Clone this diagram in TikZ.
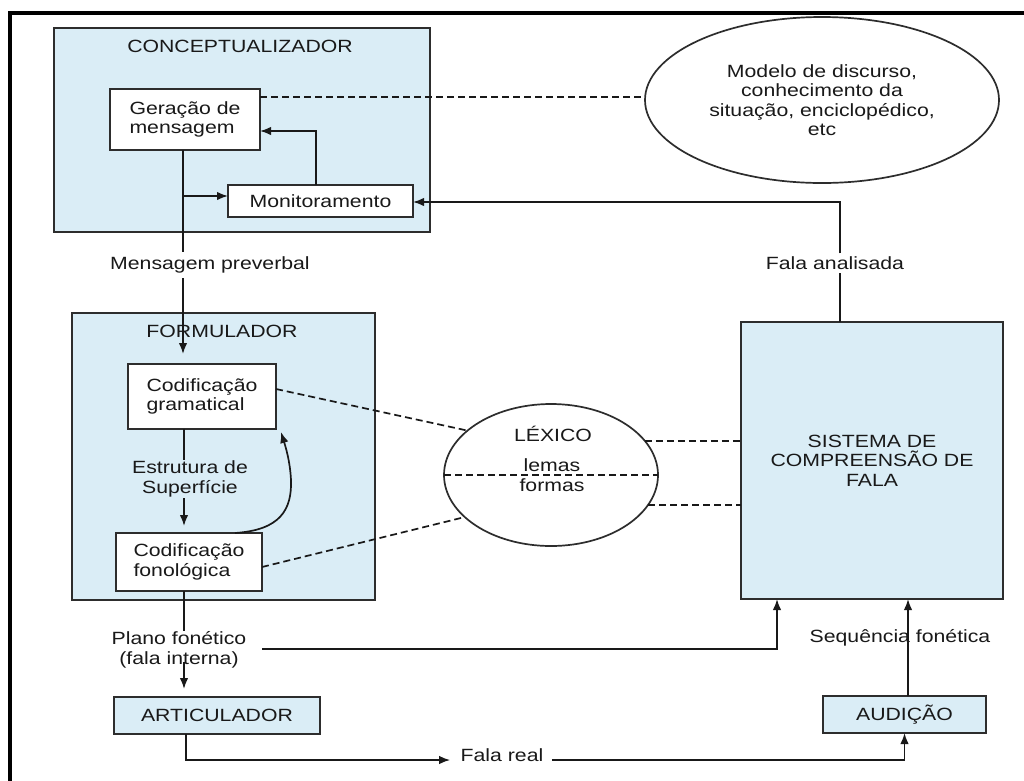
\documentclass[tikz,border=0pt]{standalone}
\usepackage{fontspec}
\newfontfamily\diafont{Liberation Sans}[FakeStretch=1.2]
\usetikzlibrary{arrows.meta,shapes.geometric}
\definecolor{boxblue}{RGB}{218,237,246}
\definecolor{edge}{RGB}{45,45,45}
\definecolor{ink}{RGB}{25,25,25}
\begin{document}
\begin{tikzpicture}[x=1pt,y=-1pt,
  every node/.style={font=\diafont\fontsize{17.7}{19.5}\selectfont, text=ink},
  bigbox/.style={draw=edge, fill=boxblue, line width=1.9pt, inner sep=0pt, outer sep=0pt, rectangle},
  whitebox/.style={draw=edge, fill=white, line width=1.8pt, inner sep=0pt, outer sep=0pt, rectangle, align=left},
  conn/.style={draw=ink, line width=1.7pt},
  arr/.style={conn, -{Latex[length=11pt,width=8.5pt]}},
  dashline/.style={draw=ink, line width=1.7pt, dash pattern=on 7pt off 4pt},
  oval/.style={ellipse, draw=edge, line width=1.7pt, inner sep=0pt, outer sep=0pt},
]
\useasboundingbox (0,0) rectangle (1024,780);
\fill[white] (0,0) rectangle (1024,780);
\draw[line width=3.2pt, black] (10,781) -- (10,13) -- (1025,13);

% Conceptualizador
\node[bigbox, minimum width=376pt, minimum height=204pt] (concbox) at (242,130) {};
\node (conctitle) at (240,46) {CONCEPTUALIZADOR};
\node[whitebox, minimum width=150pt, minimum height=61pt] (gera) at (185,119.5) {Geração de\\mensagem};
\node[whitebox, minimum width=185pt, minimum height=32pt] (monit) at (320.5,201) {Monitoramento};
\node[oval, minimum width=354pt, minimum height=166pt, align=center] (disc) at (822,100) {Modelo de discurso,\\conhecimento da\\situação, enciclopédico,\\etc};

% Formulador
\node[bigbox, minimum width=303pt, minimum height=287pt] (formbox) at (223.5,456.5) {};
\node[whitebox, minimum width=148pt, minimum height=65pt] (gram) at (202,396.5) {Codificação\\gramatical};
\node[whitebox, minimum width=146pt, minimum height=58pt] (fono) at (189,562) {Codificação\\fonológica};

% Lexico
\node[oval, minimum width=214pt, minimum height=142pt] (lex) at (551,475) {};
\node (lextitle) at (553,434) {LÉXICO};
\node (lemas) at (552,465) {lemas};
\node (formas) at (552,485) {formas};

% Sistema, articulador, audicao
\node[bigbox, minimum width=262pt, minimum height=277pt, align=center] (sist) at (872,460.5) {SISTEMA DE\\COMPREENSÃO DE\\FALA};
\node[bigbox, minimum width=206pt, minimum height=37pt] (artic) at (217,715.5) {ARTICULADOR};
\node[bigbox, minimum width=163pt, minimum height=37pt] (audi) at (904.5,714.5) {AUDIÇÃO};

% Labels
\node[inner sep=5pt] (msgpre) at (210,265) {Mensagem preverbal};
\node[inner sep=1pt, align=center] (estrut) at (190,479) {Estrutura de\\Superfície};
\node[inner sep=1pt, align=center] (plano) at (179,650) {Plano fonético\\(fala interna)};
\node[inner sep=3pt] (falaan) at (835,263) {Fala analisada};
\node (seqf) at (900,638) {Sequência fonética};
\node (falareal) at (502,755) {Fala real};

% Coordinates
\coordinate (vA) at (183,196);
\coordinate (vB) at (184,0);
\coordinate (pB) at (184,662);
\coordinate (fb) at (316,131);
\coordinate (gd) at (260,97);
\coordinate (fa) at (840,202);
\coordinate (pl1) at (262,649);
\coordinate (pl2) at (777,649);
\coordinate (sq) at (908,0);
\coordinate (fr) at (186,760);
\coordinate (fr2) at (904.5,760);
\coordinate (gr) at (276,389);
\coordinate (fn) at (262,567);
\coordinate (cv) at (235,533);

% Connectors
\draw[conn] (gera.south -| vA) -- (msgpre.north -| vA);
\draw[arr, shorten >=10pt] (msgpre.south -| vA) -- (gram.north -| vA);
\draw[arr] (vA) -- (vA -| monit.west);
\draw[arr] (monit.north -| fb) -- (fb) -- (fb -| gera.east);
\draw[dashline] (gd) -- (gd -| disc.west);

\draw[conn] (gram.south -| vB) -- (estrut.north -| vB);
\draw[arr, shorten >=7pt] (estrut.south -| vB) -- (fono.north -| vB);
\draw[arr] (cv) .. controls (280,530) and (292,510) .. (291,480) .. controls (290,460) and (285,445) .. ([xshift=5pt,yshift=-3pt]gram.south east);

\draw[dashline] (gr) -- (lex.152);
\draw[dashline] (fn) -- (lex.206);
\draw[dashline] (lex.west) -- (lex.east);
\draw[dashline] (lex.20) -- (lex.20 -| sist.west);
\draw[dashline] (lex.-17) -- (lex.-17 -| sist.west);

\draw[conn] (sist.north -| fa) -- (falaan.south -| fa);
\draw[arr] (falaan.north -| fa) -- (fa) -- (fa -| monit.east);

\draw[conn] (fono.south -| vB) -- (plano.north -| vB);
\draw[arr, shorten >=8pt] (pB) -- (pB |- artic.north);
\draw[arr] (pl1) -- (pl2) -- (pl2 |- sist.south);
\draw[arr] (audi.north -| sq) -- (sist.south -| sq);
\draw[arr, shorten >=7pt] (artic.south -| fr) -- (fr) -- (fr -| falareal.west);
\draw[arr, shorten <=5pt] (fr -| falareal.east) -- (fr2) -- (audi.south);

% titles on top
\node (formtitle) at (222,331) {FORMULADOR};
\end{tikzpicture}
\end{document}
